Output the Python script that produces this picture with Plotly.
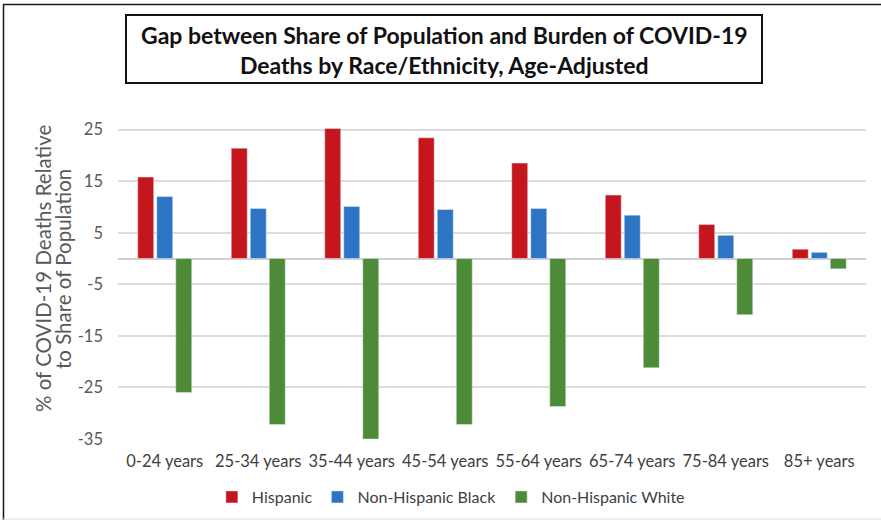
import plotly.graph_objects as go

categories = ["0-24 years", "25-34 years", "35-44 years", "45-54 years",
              "55-64 years", "65-74 years", "75-84 years", "85+ years"]
hispanic = [15.8, 21.4, 25.2, 23.4, 18.5, 12.3, 6.6, 1.8]
nh_black = [12.0, 9.7, 10.1, 9.5, 9.7, 8.4, 4.5, 1.2]
nh_white = [-26.0, -32.2, -35.0, -32.2, -28.7, -21.2, -10.9, -2.0]
y_ticks = [25, 15, 5, -5, -15, -25, -35]
y_title_lines = ["% of COVID-19 Deaths Relative", "to Share of Population"]

FONT = "Lato"
fig = go.Figure()
fig.add_trace(go.Bar(x=categories, y=hispanic, name="Hispanic", marker_color="#C4161C"))
fig.add_trace(go.Bar(x=categories, y=nh_black, name="Non-Hispanic Black", marker_color="#2E74C4"))
fig.add_trace(go.Bar(x=categories, y=nh_white, name="Non-Hispanic White", marker_color="#4E8B38"))

H = 523 - 127 - 84
W = 881 - 118 - 15
def px_x(x): return (x - 118) / W
def px_y(y): return (523 - 84 - y) / H

fig.update_layout(
    width=881, height=523,
    margin=dict(l=118, r=15, t=127, b=84, autoexpand=False),
    paper_bgcolor="white", plot_bgcolor="white",
    barmode="group", bargap=0.39, bargroupgap=0.16,
    font=dict(family=FONT, color="#404040"),
    showlegend=True,
    legend=dict(orientation="h", x=0.445, xanchor="center", y=px_y(497), yanchor="middle",
                font=dict(size=16, color="#404040"), itemwidth=30,
                traceorder="normal"),
    xaxis=dict(tickfont=dict(size=16.5, color="#404040"), showline=False, ticks="",
               showgrid=False, ticklabelstandoff=10, automargin=False),
    yaxis=dict(range=[-35, 25.5], tickvals=y_ticks, ticktext=[str(v) for v in y_ticks],
               tickfont=dict(size=16.5, color="#595959"), showgrid=True, gridcolor="#DCDCDC",
               gridwidth=1.5, zeroline=True, zerolinecolor="#D0D0D0", zerolinewidth=1.5,
               ticks="", ticklabelstandoff=14, automargin=False),
)

# y-axis title as two rotated lines
for xpos, line in zip([43, 63], y_title_lines):
    fig.add_annotation(xref="paper", yref="paper", x=px_x(xpos), y=px_y(269), xanchor="center",
                       yanchor="middle", showarrow=False, textangle=-90, text=line,
                       font=dict(family=FONT, size=20.5, color="#595959"))

# outer frame
fig.add_shape(type="line", xref="paper", yref="paper", x0=px_x(3), x1=px_x(881), y0=px_y(4.5), y1=px_y(4.5),
              line=dict(color="#1a1a1a", width=1.5))
fig.add_shape(type="line", xref="paper", yref="paper", x0=px_x(3.5), x1=px_x(3.5), y0=px_y(4), y1=px_y(520),
              line=dict(color="#1a1a1a", width=1.5))
fig.add_shape(type="line", xref="paper", yref="paper", x0=px_x(3), x1=px_x(881), y0=px_y(519), y1=px_y(519),
              line=dict(color="#DDDDDD", width=1))
# title box
fig.add_shape(type="rect", xref="paper", yref="paper", x0=px_x(126), x1=px_x(762), y0=px_y(15), y1=px_y(83),
              line=dict(color="#111111", width=2), fillcolor="white")
fig.add_annotation(xref="paper", yref="paper", x=px_x(444), y=px_y(50), xanchor="center", yanchor="middle",
                   showarrow=False,
                   text="<b>Gap between Share of Population and Burden of COVID-19<br>Deaths by Race/Ethnicity, Age-Adjusted</b>",
                   font=dict(family=FONT, size=23, color="#111111"), align="center")

fig.write_html("out.html")
